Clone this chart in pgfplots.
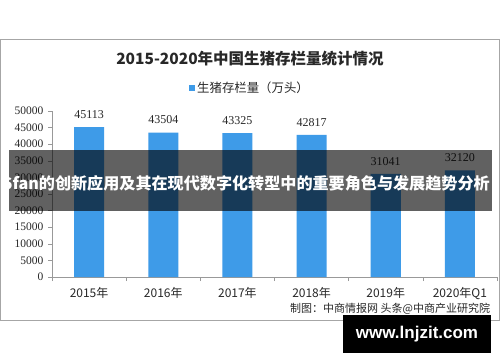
\documentclass[border=0pt]{standalone}
\usepackage{pgfplots}
\pgfplotsset{compat=1.18}
\usepackage{fontspec}
\setmainfont{Noto Sans CJK SC}
\newfontfamily\numfont{Liberation Serif}
\newfontfamily\webfont{Liberation Sans}
\definecolor{barblue}{RGB}{62,155,232}
\definecolor{txt}{RGB}{40,40,40}
\begin{document}
\begin{tikzpicture}
\begin{scope}[x=1pt,y=1pt]
\fill[white] (0,0) rectangle (500,362);
\draw[gray!70, line width=0.9pt] (0.5,42) rectangle (499.5,322.5);
\node[font=\fontsize{15.5}{16}\selectfont\bfseries, txt] at (250,303) {2015-2020年中国生猪存栏量统计情况};
\end{scope}
\begin{axis}[
  at={(52pt,85pt)}, anchor=south west,
  scale only axis, width=445pt, height=166pt,
  xmin=-0.5, xmax=5.5, ymin=0, ymax=50000,
  ybar, bar width=30pt,
  axis x line*=bottom, axis y line*=left,
  axis line style={-, gray!80, line width=0.6pt},
  tick align=outside,
  major tick length=4pt, minor tick length=4pt,
  xtick={0,1,2,3,4,5},
  xticklabels={2015年,2016年,2017年,2018年,2019年,2020年Q1},
  minor xtick={-0.5,0.5,1.5,2.5,3.5,4.5,5.5},
  major x tick style={draw=none},
  minor x tick style={gray!80, line width=0.6pt},
  y tick style={gray!80, line width=0.6pt},
  ytick={0,5000,...,50000},
  scaled y ticks=false,
  /pgf/number format/.cd, 1000 sep={}, assume math mode=true, /pgfplots/.cd,
  yticklabel style={font=\numfont\fontsize{11.5}{12}\selectfont, txt, xshift=-1pt},
  xticklabel style={font=\fontsize{12}{12}\selectfont, txt, yshift=-3pt},
  nodes near coords,
  every node near coord/.append style={font=\numfont\fontsize{12}{12}\selectfont, txt, yshift=5pt},
  legend style={draw=none, fill=none, at={(axis description cs:0.445,1.139)}, anchor=center,
    font=\fontsize{12.4}{13}\selectfont, text=txt},
  legend image code/.code={\fill[barblue] (0pt,-3pt) rectangle (6pt,3pt);},
]
\addplot[fill=barblue, draw=none] coordinates {(0,45113) (1,43504) (2,43325) (3,42817) (4,31041) (5,32120)};
\legend{生猪存栏量（万头）}
\end{axis}
\begin{scope}[x=1pt,y=1pt]
\fill[black, opacity=0.62] (9,151) rectangle (492,212);
\node[white, anchor=west, inner sep=0pt, font=\fontsize{16.1}{17}\selectfont\bfseries] at (2.5,178.5) {6fan的创新应用及其在现代数字化转型中的重要角色与发展趋势分析};
\node[anchor=west, inner sep=0pt, font=\fontsize{11}{11}\selectfont, txt] at (290,53) {制图：中商情报网 头条@中商产业研究院};
\fill[black] (343,9) rectangle (491,47);
\node[white, font=\webfont\bfseries\fontsize{17}{17}\selectfont] at (417,28) {www.lnjzit.com};
\pgfresetboundingbox
\path[use as bounding box] (0,0) rectangle (500,362);
\end{scope}
\end{tikzpicture}
\end{document}
